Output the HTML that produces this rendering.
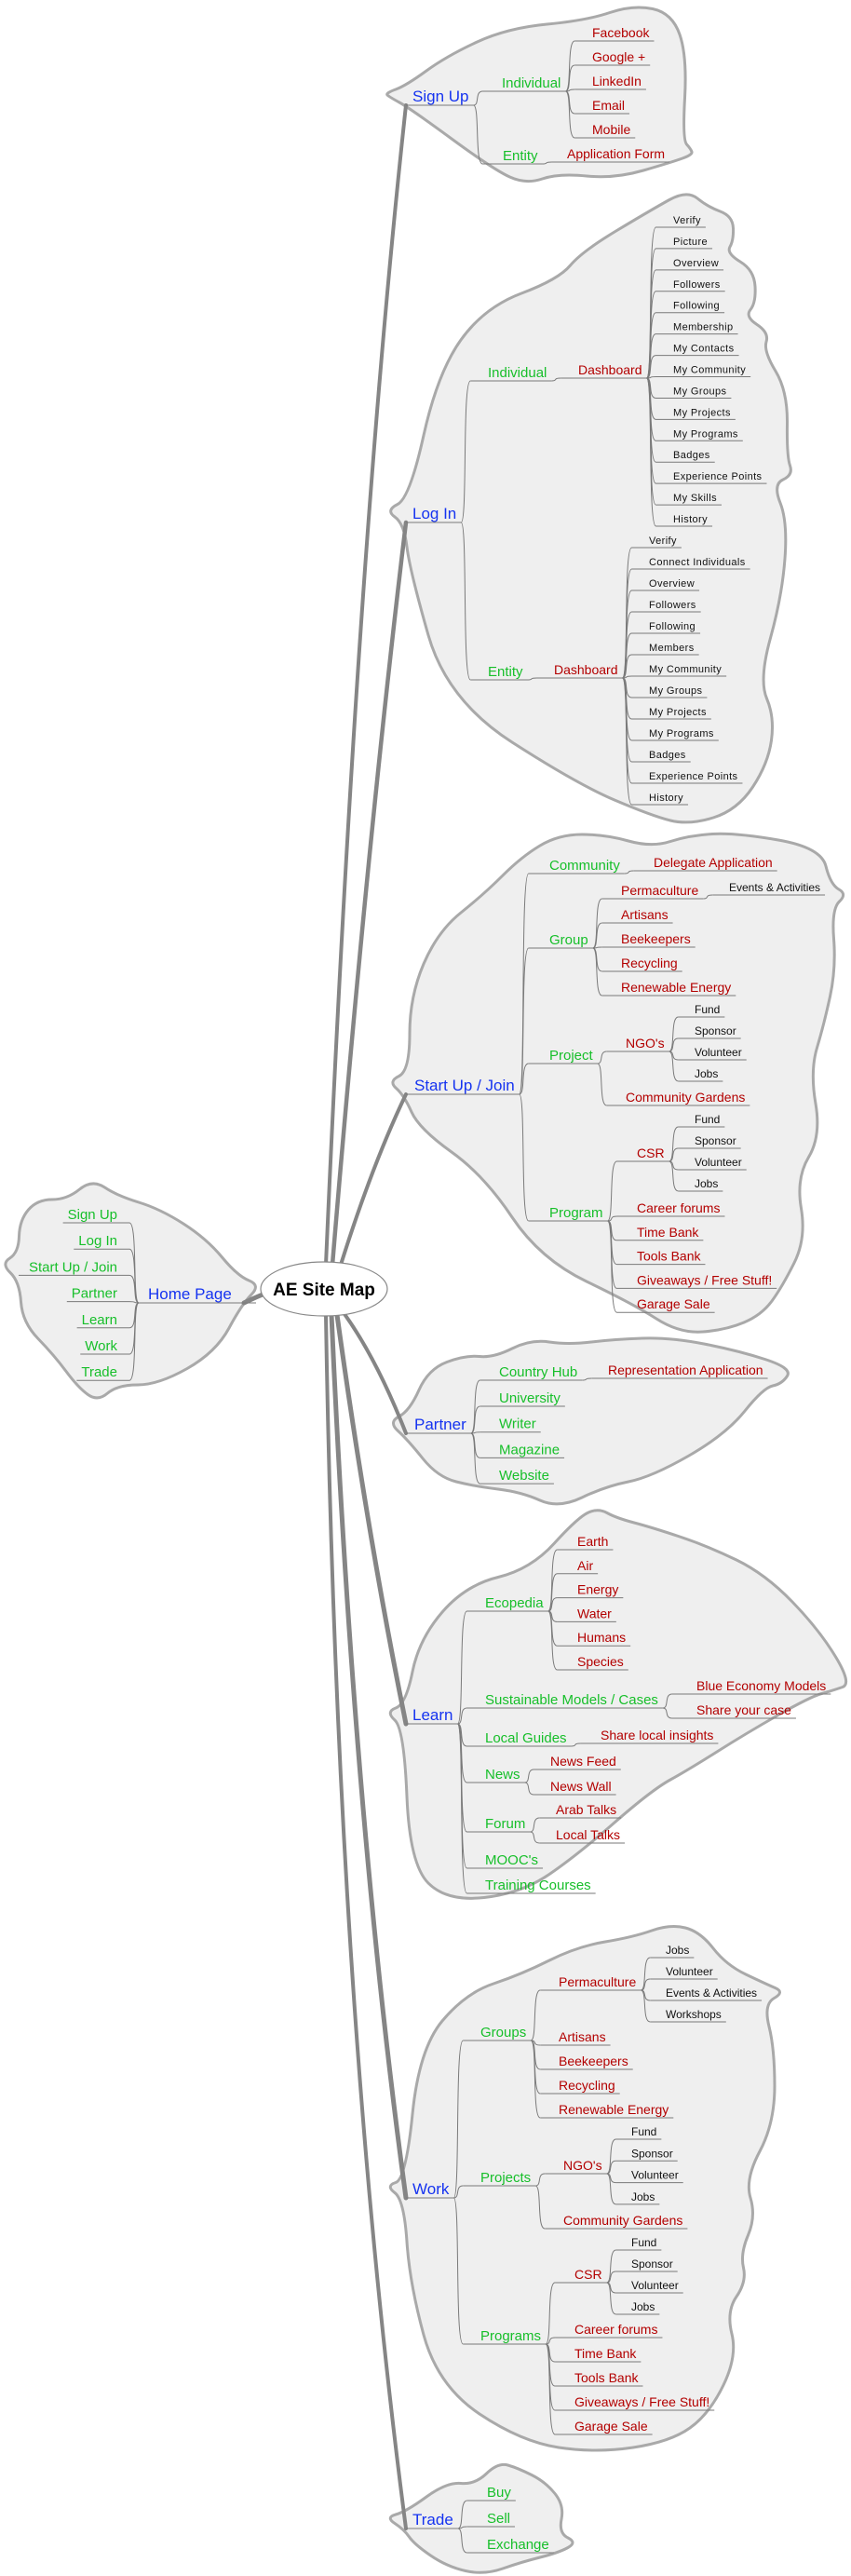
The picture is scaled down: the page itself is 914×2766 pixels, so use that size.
<!DOCTYPE html>
<html><head><meta charset="utf-8">
<style>
html,body{margin:0;padding:0;background:#fff;}
svg{display:block;}
text{font-family:"Liberation Sans",Arial,sans-serif;}
.b{fill:#1533f0;font-size:17px;}
.g{fill:#17bf2a;font-size:15px;}
.r{fill:#b30000;font-size:14px;}
.k{fill:#111;font-size:12px;}
.s{fill:#111;font-size:11px;letter-spacing:0.4px;}
</style></head>
<body>
<svg id="m" width="914" height="2766" viewBox="0 0 914 2766" xmlns="http://www.w3.org/2000/svg">
<g id="clouds"></g>
<g id="trunk" fill="none" stroke="#858585" stroke-linecap="round">
<path d="M350,1358 Q383,600 436,113" stroke-width="4"/>
<path d="M357,1358 Q395,900 436,561" stroke-width="4.5"/>
<path d="M366,1358 Q400,1250 436,1175" stroke-width="4"/>
<path d="M370,1411 Q405,1460 436,1539" stroke-width="4"/>
<path d="M362,1412 Q395,1650 436,1851" stroke-width="5"/>
<path d="M356,1412 Q380,1950 436,2360" stroke-width="5"/>
<path d="M350,1412 Q362,2150 436,2715" stroke-width="4"/>
<path d="M282,1390 Q270,1395 262,1399" stroke-width="5"/>
</g>
<g id="tree" fill="none" stroke="#7a7a7a" stroke-width="1"></g>
<g id="txt"></g>
<ellipse cx="348" cy="1384" rx="68" ry="29" fill="#fff" stroke="#888" stroke-width="1.2"/>
<text x="348" y="1391" text-anchor="middle" style="font-size:19px;font-weight:bold;fill:#000">AE Site Map</text>
</svg>
<script>
var NS="http://www.w3.org/2000/svg";
function el(tag,attrs,parent,txt){var e=document.createElementNS(NS,tag);for(var k in attrs)e.setAttribute(k,attrs[k]);if(txt!==undefined)e.textContent=txt;document.getElementById(parent).appendChild(e);return e;}
function cloud(p){var n=p.length,d="";function mid(a,b){return[(a[0]+b[0])/2,(a[1]+b[1])/2];}
var m0=mid(p[n-1],p[0]);d="M"+m0[0]+","+m0[1];for(var i=0;i<n;i++){var c=p[i],m=mid(c,p[(i+1)%n]);d+=" Q"+c[0]+","+c[1]+" "+m[0]+","+m[1];}d+="Z";
el("path",{d:d,fill:"#efefef",stroke:"#a9a9a9","stroke-width":"3"},"clouds");}
cloud([[414,100],[436,92],[480,60],[545,30],[630,22],[680,5],[722,14],[738,60],[733,150],[742,160],[744,166],[722,174],[660,192],[600,186],[565,198],[530,182],[440,116],[418,104]]);
cloud([[414,548],[440,535],[470,400],[520,330],[600,300],[625,270],[700,225],[738,204],[760,222],[787,232],[788,258],[780,272],[810,290],[812,325],[800,340],[826,357],[820,377],[846,420],[845,490],[852,510],[830,520],[846,560],[840,640],[815,730],[832,770],[825,820],[792,870],[740,886],[700,876],[620,842],[480,752],[440,612],[434,562]]);
cloud([[417,1161],[440,1150],[440,1070],[470,1000],[520,960],[560,920],[600,896],[650,896],[700,910],[740,897],[790,894],[882,910],[892,950],[910,960],[893,976],[898,1040],[885,1100],[870,1150],[882,1220],[855,1265],[866,1330],[840,1382],[818,1412],[780,1428],[730,1432],[680,1400],[580,1352],[520,1262],[450,1212],[434,1176]]);
cloud([[1,1357],[20,1345],[21,1310],[40,1288],[72,1288],[99,1266],[126,1284],[172,1298],[222,1330],[255,1370],[280,1380],[260,1400],[232,1452],[170,1487],[126,1487],[105,1505],[84,1490],[58,1455],[24,1420],[21,1376]]);
cloud([[417,1527],[440,1515],[460,1470],[500,1455],[530,1458],[570,1438],[610,1444],[660,1438],[720,1436],[792,1450],[851,1469],[840,1486],[820,1490],[780,1540],[700,1586],[650,1596],[600,1620],[560,1602],[510,1596],[470,1586],[438,1546]]);
cloud([[414,1838],[436,1830],[450,1760],[500,1702],[570,1685],[620,1630],[642,1619],[662,1630],[700,1640],[760,1660],[822,1690],[880,1750],[915,1808],[895,1815],[870,1822],[800,1862],[740,1900],[700,1922],[620,1992],[560,2033],[480,2042],[440,2002],[434,1856]]);
cloud([[414,2347],[436,2340],[450,2200],[500,2140],[560,2120],[620,2090],[680,2080],[720,2066],[752,2074],[780,2110],[822,2130],[843,2139],[820,2152],[832,2200],[832,2280],[800,2340],[812,2380],[795,2420],[802,2450],[780,2482],[792,2530],[762,2592],[720,2622],[640,2634],[560,2622],[470,2562],[440,2452],[434,2362]]);
cloud([[414,2703],[436,2697],[480,2665],[510,2668],[535,2644],[556,2650],[586,2665],[606,2690],[600,2720],[620,2730],[600,2741],[560,2751],[520,2765],[480,2756],[445,2732],[434,2716]]);

function node(n,startX,pe,py){
  var t=el("text",{x:n[1],y:n[2]-4,"class":n[3]},"txt",n[0]);
  var end=n[1]+t.getComputedTextLength()+5;
  if(pe!==null){
    var y=n[2];
    el("path",{d:"M"+pe+","+py+" C"+(pe+7)+","+py+" "+(pe+1)+","+y+" "+(pe+10)+","+y},"tree");
    startX=pe+10;
  }
  el("line",{x1:startX,y1:n[2],x2:end,y2:n[2]},"tree");
  if(n[4])n[4].forEach(function(c){node(c,null,end,n[2]);});
}
function list(arr,x,y0,dy,cls){return arr.map(function(t,i){return[t,x,y0+dy*i,cls];});}

var LI=list(["Verify","Picture","Overview","Followers","Following","Membership","My Contacts","My Community","My Groups","My Projects","My Programs","Badges","Experience Points","My Skills","History"],723,244,22.93,"s");
var LE=list(["Verify","Connect Individuals","Overview","Followers","Following","Members","My Community","My Groups","My Projects","My Programs","Badges","Experience Points","History"],697,588,23,"s");
var F4=["Fund","Sponsor","Volunteer","Jobs"];

var roots=[
["Sign Up",443,113,"b",[["Individual",539,98,"g",list(["Facebook","Google +","LinkedIn","Email","Mobile"],636,44,26,"r")],["Entity",540,176,"g",[["Application Form",609,174,"r"]]]]],
["Log In",443,561,"b",[["Individual",524,409,"g",[["Dashboard",621,406,"r",LI]]],["Entity",524,730,"g",[["Dashboard",595,728,"r",LE]]]]],
["Start Up / Join",445,1175,"b",[
 ["Community",590,938,"g",[["Delegate Application",702,935,"r"]]],
 ["Group",590,1018,"g",[["Permaculture",667,965,"r",[["Events & Activities",783,961,"k"]]]].concat(list(["Artisans","Beekeepers","Recycling","Renewable Energy"],667,991,26,"r"))],
 ["Project",590,1142,"g",[["NGO's",672,1129,"r",list(F4,746,1092,23,"k")],["Community Gardens",672,1187,"r"]]],
 ["Program",590,1311,"g",[["CSR",684,1247,"r",list(F4,746,1210,23,"k")]].concat(list(["Career forums","Time Bank","Tools Bank","Giveaways / Free Stuff!","Garage Sale"],684,1306,25.8,"r"))]
]],
["Partner",445,1539,"b",[["Country Hub",536,1482,"g",[["Representation Application",653,1480,"r"]]]].concat(list(["University","Writer","Magazine","Website"],536,1510,27.7,"g"))],
["Learn",443,1851,"b",[
 ["Ecopedia",521,1730,"g",list(["Earth","Air","Energy","Water","Humans","Species"],620,1664,25.8,"r")],
 ["Sustainable Models / Cases",521,1834,"g",[["Blue Economy Models",748,1819,"r"],["Share your case",748,1845,"r"]]],
 ["Local Guides",521,1875,"g",[["Share local insights",645,1872,"r"]]],
 ["News",521,1914,"g",[["News Feed",591,1900,"r"],["News Wall",591,1927,"r"]]],
 ["Forum",521,1967,"g",[["Arab Talks",597,1952,"r"],["Local Talks",597,1979,"r"]]],
 ["MOOC's",521,2006,"g"],["Training Courses",521,2033,"g"]
]],
["Work",443,2360,"b",[
 ["Groups",516,2191,"g",[["Permaculture",600,2137,"r",list(["Jobs","Volunteer","Events & Activities","Workshops"],715,2102,23,"k")]].concat(list(["Artisans","Beekeepers","Recycling","Renewable Energy"],600,2196,26,"r"))],
 ["Projects",516,2347,"g",[["NGO's",605,2334,"r",list(F4,678,2297,23.3,"k")],["Community Gardens",605,2393,"r"]]],
 ["Programs",516,2517,"g",[["CSR",617,2451,"r",list(F4,678,2416,23,"k")]].concat(list(["Career forums","Time Bank","Tools Bank","Giveaways / Free Stuff!","Garage Sale"],617,2510,26,"r"))]
]],
["Trade",443,2715,"b",list(["Buy","Sell","Exchange"],523,2685,28,"g")]
];
roots.forEach(function(r){node(r,436,null,0);});

// Home Page (mirrored)
el("text",{x:159,y:1395,"class":"b"},"txt","Home Page");
el("line",{x1:149,y1:1399,x2:275,y2:1399},"tree");
["Sign Up","Log In","Start Up / Join","Partner","Learn","Work","Trade"].forEach(function(t,i){
  var y=1313+28.2*i;
  var tx=el("text",{x:126,y:y-4,"class":"g","text-anchor":"end"},"txt",t);
  var st=126-tx.getComputedTextLength()-5;
  if(t==="Start Up / Join")st=20;
  el("line",{x1:st,y1:y,x2:139,y2:y},"tree");
  el("path",{d:"M149,1399 C142,1399 148,"+y+" 139,"+y},"tree");
});
</script>
</body></html>
